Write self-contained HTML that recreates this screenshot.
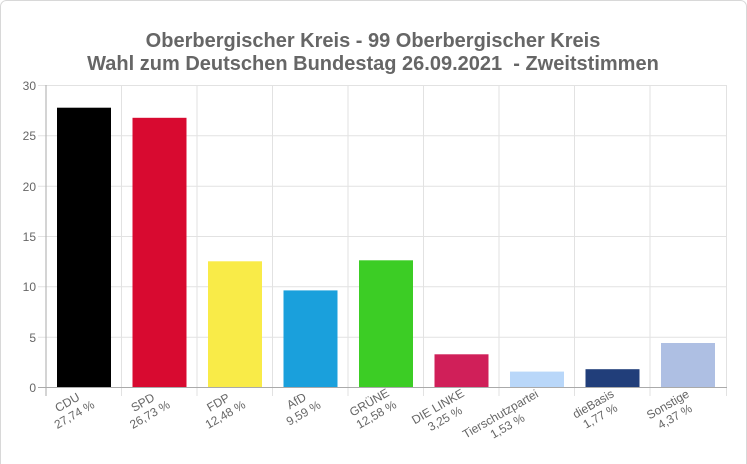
<!DOCTYPE html>
<html><head><meta charset="utf-8"><style>
body{margin:0;background:#fff}
svg{display:block;font-family:"Liberation Sans",Arial,sans-serif}
</style></head><body>
<svg width="747" height="464" viewBox="0 0 747 464" xmlns="http://www.w3.org/2000/svg">
<rect x="0.5" y="0.5" width="746" height="470" rx="6" fill="#fff" stroke="#d8d8d8"/>
<text x="373" y="47" text-anchor="middle" font-size="20" font-weight="bold" fill="#666">Oberbergischer Kreis - 99 Oberbergischer Kreis</text>
<text x="373" y="70" text-anchor="middle" font-size="20" font-weight="bold" fill="#666">Wahl zum Deutschen Bundestag 26.09.2021 &#160;- Zweitstimmen</text>
<g stroke="#e2e2e2" stroke-width="1">
<line x1="38" y1="85.5" x2="727" y2="85.5"/>
<line x1="38" y1="135.8" x2="727" y2="135.8"/>
<line x1="38" y1="186.2" x2="727" y2="186.2"/>
<line x1="38" y1="236.5" x2="727" y2="236.5"/>
<line x1="38" y1="286.8" x2="727" y2="286.8"/>
<line x1="38" y1="337.2" x2="727" y2="337.2"/>
<line x1="121.5" y1="85" x2="121.5" y2="396"/>
<line x1="197" y1="85" x2="197" y2="396"/>
<line x1="272.5" y1="85" x2="272.5" y2="396"/>
<line x1="348" y1="85" x2="348" y2="396"/>
<line x1="423.5" y1="85" x2="423.5" y2="396"/>
<line x1="499" y1="85" x2="499" y2="396"/>
<line x1="574.5" y1="85" x2="574.5" y2="396"/>
<line x1="650" y1="85" x2="650" y2="396"/>
<line x1="726.5" y1="85" x2="726.5" y2="396"/>
</g>
<g font-size="12" fill="#666" text-anchor="end">
<text x="36" y="90">30</text><text x="36" y="140">25</text><text x="36" y="191">20</text>
<text x="36" y="241">15</text><text x="36" y="291">10</text><text x="36" y="342">5</text><text x="36" y="392">0</text>
</g>
<g>
<rect x="57" y="107.7" width="54" height="279.3" fill="#000"/>
<rect x="132.5" y="117.8" width="54" height="269.2" fill="#d80a30"/>
<rect x="208" y="261.3" width="54" height="125.7" fill="#f9eb48"/>
<rect x="283.5" y="290.4" width="54" height="96.6" fill="#1aa0dc"/>
<rect x="359" y="260.3" width="54" height="126.7" fill="#3ccd25"/>
<rect x="434.5" y="354.3" width="54" height="32.7" fill="#d01f59"/>
<rect x="510" y="371.6" width="54" height="15.4" fill="#b9d7f9"/>
<rect x="585.5" y="369.2" width="54" height="17.8" fill="#213e7a"/>
<rect x="661" y="343" width="54" height="44" fill="#aebfe3"/>
</g>
<line x1="46" y1="85" x2="46" y2="396" stroke="#aaa"/>
<line x1="38" y1="387.5" x2="727" y2="387.5" stroke="#aaa"/>
<g font-size="12" fill="#666" text-anchor="middle">
<g transform="translate(85.5,392) rotate(-30)"><text x="-21" y="4">CDU</text><text x="-21" y="18">27,74 %</text></g>
<g transform="translate(161,392) rotate(-30)"><text x="-21" y="4">SPD</text><text x="-21" y="18">26,73 %</text></g>
<g transform="translate(236.5,392) rotate(-30)"><text x="-21" y="4">FDP</text><text x="-21" y="18">12,48 %</text></g>
<g transform="translate(312,392) rotate(-30)"><text x="-18" y="4">AfD</text><text x="-18" y="18">9,59 %</text></g>
<g transform="translate(387.5,392) rotate(-30)"><text x="-21" y="4">GRÜNE</text><text x="-21" y="18">12,58 %</text></g>
<g transform="translate(463,392) rotate(-30)"><text x="-29" y="4">DIE LINKE</text><text x="-29" y="18">3,25 %</text></g>
<g transform="translate(538.5,392) rotate(-30)"><text x="-44" y="4">Tierschutzpartei</text><text x="-44" y="18">1,53 %</text></g>
<g transform="translate(614,392) rotate(-30)"><text x="-24" y="4">dieBasis</text><text x="-24" y="18">1,77 %</text></g>
<g transform="translate(689.5,392) rotate(-30)"><text x="-25" y="4">Sonstige</text><text x="-25" y="18">4,37 %</text></g>
</g>
</svg>
</body></html>
